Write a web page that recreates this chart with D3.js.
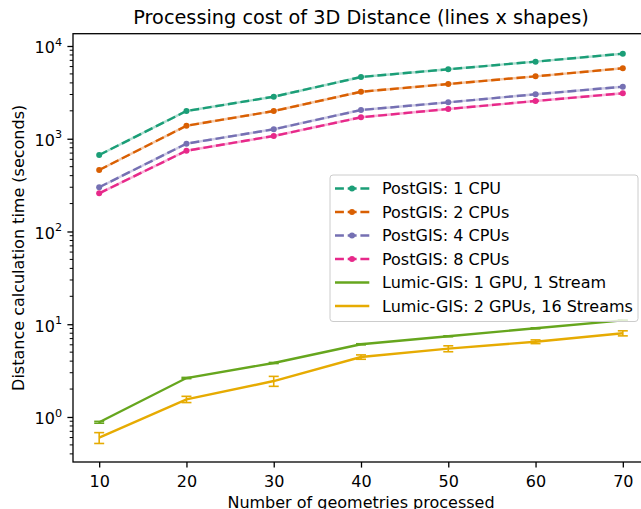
<!DOCTYPE html>
<html>
<head>
<meta charset="utf-8">
<script src="https://cdn.jsdelivr.net/npm/d3@7"></script>
<style>
  body { margin: 0; background: #fff; }
  text { font-family: "DejaVu Sans", sans-serif; fill: #000; }
</style>
</head>
<body>
<div id="chart"></div>
<script>
const width = 641;
const height = 509;

// data
const geometries = [10, 20, 30, 40, 50, 60, 70];
const postgis1 = [668, 1990, 2840, 4630, 5610, 6780, 8260];
const postgis2 = [460, 1380, 1990, 3210, 3890, 4710, 5750];
const postgis4 = [300, 885, 1265, 2040, 2470, 3015, 3640];
const postgis8 = [258, 743, 1071, 1703, 2093, 2553, 3090];
const lumic1 = [0.877, 2.63, 3.82, 6.08, 7.42, 9.04, 11.0];
const lumic1Err = [0.02, 0.04, 0.05, 0.08, 0.08, 0.1, 0.1];
const lumic2 = [0.598, 1.55, 2.44, 4.43, 5.45, 6.48, 7.99];
const lumic2Err = [0.08, 0.12, 0.30, 0.24, 0.40, 0.30, 0.50];
const xTicks = [10, 20, 30, 40, 50, 60, 70];
const yTicks = [1, 10, 100, 1000, 10000];

const series = [
    { name: "PostGIS: 1 CPU", values: postgis1, color: "#1b9e77", dashed: true },
    { name: "PostGIS: 2 CPUs", values: postgis2, color: "#d95f02", dashed: true },
    { name: "PostGIS: 4 CPUs", values: postgis4, color: "#7570b3", dashed: true },
    { name: "PostGIS: 8 CPUs", values: postgis8, color: "#e7298a", dashed: true },
    { name: "Lumic-GIS: 1 GPU, 1 Stream", values: lumic1, err: lumic1Err, color: "#66a61e", dashed: false },
    { name: "Lumic-GIS: 2 GPUs, 16 Streams", values: lumic2, err: lumic2Err, color: "#e6ab02", dashed: false }
];

const plotLeft = 73, plotRight = 649, plotTop = 33.7, plotBottom = 462;
const dash = "8.9,3.8";

const x = d3.scaleLinear().domain([7, 73]).range([plotLeft, plotRight]);
const y = d3.scaleLog().domain([0.327, 13570]).range([plotBottom, plotTop]);

const svg = d3.select("#chart")
    .append("svg")
    .attr("width", width)
    .attr("height", height);

svg.append("defs").append("clipPath")
    .attr("id", "plot")
    .append("rect")
    .attr("x", plotLeft).attr("y", plotTop)
    .attr("width", plotRight - plotLeft).attr("height", plotBottom - plotTop);

// title
svg.append("text")
    .attr("x", (plotLeft + plotRight) / 2)
    .attr("y", 24)
    .attr("text-anchor", "middle")
    .style("font-size", "19.3px")
    .text("Processing cost of 3D Distance (lines x shapes)");

// x axis
const xAxis = svg.append("g")
    .attr("transform", `translate(0,${plotBottom})`)
    .call(d3.axisBottom(x).tickValues(xTicks).tickSize(5.6).tickPadding(4.5).tickSizeOuter(0));
xAxis.select(".domain").remove();
xAxis.selectAll("text")
    .attr("dy", null)
    .attr("y", 24.5)
    .style("font-size", "16px")
    .attr("font-family", "DejaVu Sans");
xAxis.selectAll("line").attr("stroke-width", 1.3);

// y axis: major ticks
const yAxis = svg.append("g")
    .attr("transform", `translate(${plotLeft},0)`)
    .call(d3.axisLeft(y).tickValues(yTicks).tickSize(5.6).tickFormat(""));
yAxis.select(".domain").remove();
yAxis.selectAll("line").attr("stroke-width", 1.3);

// minor ticks
const minor = [];
for (let e = -1; e <= 4; e++) {
    for (let m = 2; m <= 9; m++) {
        const v = m * Math.pow(10, e);
        if (v >= y.domain()[0] && v <= y.domain()[1]) minor.push(v);
    }
}
svg.append("g")
    .selectAll("line")
    .data(minor)
    .enter()
    .append("line")
    .attr("x1", plotLeft - 3.3)
    .attr("x2", plotLeft)
    .attr("y1", d => y(d))
    .attr("y2", d => y(d))
    .attr("stroke", "#000")
    .attr("stroke-width", 1);

// y tick labels as 10^n
const yLabels = svg.append("g")
    .selectAll("text")
    .data(yTicks)
    .enter()
    .append("text")
    .attr("x", 62)
    .attr("y", d => y(d) + 7.4)
    .attr("text-anchor", "end")
    .style("font-size", "16px");
yLabels.append("tspan").text("10");
yLabels.append("tspan")
    .attr("dy", -7.7)
    .style("font-size", "11.2px")
    .text(d => Math.round(Math.log10(d)));

// axis labels
svg.append("text")
    .attr("transform", `translate(24,${(plotTop + plotBottom) / 2}) rotate(-90)`)
    .attr("text-anchor", "middle")
    .style("font-size", "16px")
    .text("Distance calculation time (seconds)");

svg.append("text")
    .attr("x", (plotLeft + plotRight) / 2)
    .attr("y", 508.4)
    .attr("text-anchor", "middle")
    .style("font-size", "16px")
    .text("Number of geometries processed");

// plot lines
const plot = svg.append("g").attr("clip-path", "url(#plot)");
const line = d3.line()
    .x((d, i) => x(geometries[i]))
    .y(d => y(d));

series.forEach(s => {
    const g = plot.append("g");
    if (s.dashed) {
        g.append("path")
            .attr("d", line(s.values))
            .attr("fill", "none")
            .attr("stroke", s.color)
            .attr("stroke-opacity", 0.35)
            .attr("stroke-width", 2.4);
        g.append("path")
            .attr("d", line(s.values))
            .attr("fill", "none")
            .attr("stroke", s.color)
            .attr("stroke-width", 2.4)
            .attr("stroke-dasharray", dash);
        g.selectAll("circle")
            .data(s.values)
            .enter()
            .append("circle")
            .attr("cx", (d, i) => x(geometries[i]))
            .attr("cy", d => y(d))
            .attr("r", 3)
            .attr("fill", s.color);
    } else {
        g.append("path")
            .attr("d", line(s.values))
            .attr("fill", "none")
            .attr("stroke", s.color)
            .attr("stroke-width", 2.4);
        const bars = g.selectAll("g.err")
            .data(s.values)
            .enter()
            .append("g")
            .attr("class", "err");
        bars.append("line")
            .attr("x1", (d, i) => x(geometries[i]))
            .attr("x2", (d, i) => x(geometries[i]))
            .attr("y1", (d, i) => y(d - s.err[i]))
            .attr("y2", (d, i) => y(d + s.err[i]))
            .attr("stroke", s.color)
            .attr("stroke-width", 1.6);
        [-1, 1].forEach(sign => {
            bars.append("line")
                .attr("x1", (d, i) => x(geometries[i]) - 5)
                .attr("x2", (d, i) => x(geometries[i]) + 5)
                .attr("y1", (d, i) => y(d + sign * s.err[i]))
                .attr("y2", (d, i) => y(d + sign * s.err[i]))
                .attr("stroke", s.color)
                .attr("stroke-width", 1.6);
        });
    }
});

// frame
svg.append("rect")
    .attr("x", plotLeft).attr("y", plotTop)
    .attr("width", plotRight - plotLeft).attr("height", plotBottom - plotTop)
    .attr("fill", "none")
    .attr("stroke", "#000")
    .attr("stroke-width", 1.3);

// legend
const legend = svg.append("g");
legend.append("rect")
    .attr("x", 330).attr("y", 175)
    .attr("width", 308).attr("height", 146.5)
    .attr("rx", 3)
    .attr("fill", "#fff")
    .attr("fill-opacity", 0.8)
    .attr("stroke", "#cccccc")
    .attr("stroke-width", 1);

const rowH = 23.5;
const entries = legend.selectAll("g.entry")
    .data(series)
    .enter()
    .append("g")
    .attr("class", "entry")
    .attr("transform", (d, i) => `translate(0,${188.5 + i * rowH})`);

entries.append("line")
    .attr("x1", 335).attr("x2", 369.3)
    .attr("y1", 0).attr("y2", 0)
    .attr("stroke", d => d.color)
    .attr("stroke-width", 2.4)
    .attr("stroke-dasharray", d => d.dashed ? dash : null);

entries.filter(d => d.dashed)
    .append("circle")
    .attr("cx", 352).attr("cy", 0)
    .attr("r", 3)
    .attr("fill", d => d.color);

entries.append("text")
    .attr("x", 382)
    .attr("y", 5.8)
    .style("font-size", "16px")
    .text(d => d.name);
</script>
</body>
</html>
